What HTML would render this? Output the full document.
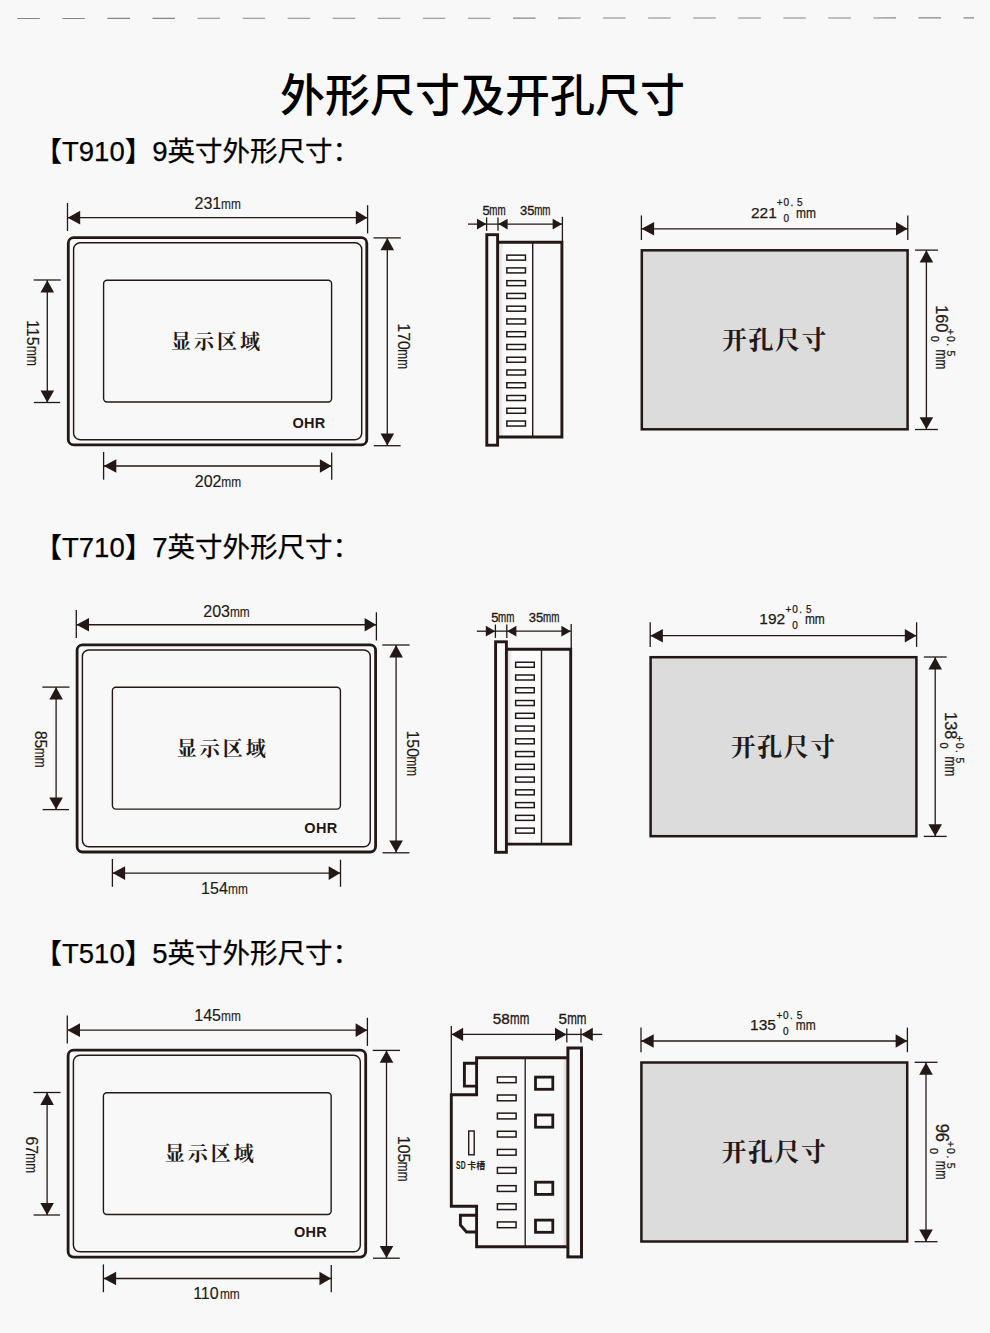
<!DOCTYPE html><html><head><meta charset="utf-8"><title>外形尺寸及开孔尺寸</title><style>html,body{margin:0;padding:0;background:#f8f8f8;font-family:"Liberation Sans",sans-serif}svg{display:block}.s{font-family:"Liberation Sans","Noto Sans CJK SC",sans-serif}.f{font-family:"Liberation Serif","Noto Serif CJK SC",serif}</style></head><body><svg width="990" height="1333" viewBox="0 0 990 1333"><defs><linearGradient id="shade" x1="0" x2="1" y1="0" y2="0"><stop offset="0" stop-color="#d9d9d9"/><stop offset="1" stop-color="#fcfcfc"/></linearGradient><linearGradient id="shade2" x1="0" x2="1" y1="0" y2="0"><stop offset="0" stop-color="#f8f8f8"/><stop offset="1" stop-color="#d4d4d4"/></linearGradient></defs><rect width="990" height="1333" fill="#f8f8f8"/><path d="M17.3 18.45L974 17.85" stroke="#858585" stroke-width="1.05" stroke-dasharray="22.53 22.53" fill="none"/><text class="s" x="482.5" y="111.5" font-size="45" font-weight="500" text-anchor="middle" fill="#000">外形尺寸及开孔尺寸</text><text class="s" x="34.5" y="161.4" font-size="27.5" fill="#000" stroke="#000" stroke-width="0.25">【T910】9英寸外形尺寸：</text><text class="s" x="34.5" y="556.9" font-size="27.5" fill="#000" stroke="#000" stroke-width="0.25">【T710】7英寸外形尺寸：</text><text class="s" x="34.5" y="962.9" font-size="27.5" fill="#000" stroke="#000" stroke-width="0.25">【T510】5英寸外形尺寸：</text><path d="M67.5 203L67.5 231" stroke="#231815" stroke-width="1.3" fill="none"/><path d="M367.6 205.2L367.6 233.4" stroke="#231815" stroke-width="1.3" fill="none"/><path d="M67.5 217.65L367.6 217.65" stroke="#231815" stroke-width="1.3" fill="none"/><path d="M67.7 217.65L80.2 210.85L80.2 224.45Z" fill="#231815"/><path d="M367.4 217.65L355.8 210.85L355.8 224.45Z" fill="#231815"/><g class="s" fill="#231815" stroke="#231815" stroke-width="0.15" transform="translate(195.03 209.2)"><text x="-0.5" font-size="16">231</text><text font-size="15.5" transform="translate(26.05 0) scale(0.767 1)">mm</text></g><rect x="68.3" y="237.7" width="298.5" height="207.2" rx="5.5" stroke="#231815" stroke-width="2.8" fill="none"/><rect x="73.6" y="242.8" width="288.1" height="196.9" rx="6.5" stroke="#231815" stroke-width="1.45" fill="none"/><rect x="103.6" y="280.2" width="228" height="121.8" rx="3.5" stroke="#231815" stroke-width="1.4" fill="none"/><path d="M373.5 237.9L400.8 237.9" stroke="#231815" stroke-width="1.3" fill="none"/><path d="M373.8 445.7L400.6 445.7" stroke="#231815" stroke-width="1.3" fill="none"/><path d="M387.3 237.9L387.3 445.7" stroke="#231815" stroke-width="1.3" fill="none"/><path d="M387.3 238L380.5 250.3L394.1 250.3Z" fill="#231815"/><path d="M387.3 445.5L380.5 433.5L394.1 433.5Z" fill="#231815"/><g class="s" fill="#231815" stroke="#231815" stroke-width="0.15" transform="translate(397.8 324.3) rotate(90) scale(1 1.08)"><text x="-1" font-size="16">170</text><text font-size="15.5" transform="translate(24.99 0) scale(0.767 1)">mm</text></g><path d="M33.6 280L60.7 280" stroke="#231815" stroke-width="1.3" fill="none"/><path d="M33.8 402.5L60.2 402.5" stroke="#231815" stroke-width="1.3" fill="none"/><path d="M47.3 280L47.3 402.5" stroke="#231815" stroke-width="1.3" fill="none"/><path d="M47.3 280.2L40.5 292.5L54.1 292.5Z" fill="#231815"/><path d="M47.3 402.4L40.5 390.4L54.1 390.4Z" fill="#231815"/><g class="s" fill="#231815" stroke="#231815" stroke-width="0.15" transform="translate(26.5 321.1) rotate(90) scale(1 1.06)"><text x="-1" font-size="16">115</text><text font-size="15.5" transform="translate(24.94 0) scale(0.767 1)">mm</text></g><path d="M103.6 451.9L103.6 479.7" stroke="#231815" stroke-width="1.3" fill="none"/><path d="M331.7 452.6L331.7 479.7" stroke="#231815" stroke-width="1.3" fill="none"/><path d="M103.6 466L331.7 466" stroke="#231815" stroke-width="1.3" fill="none"/><path d="M103.8 466L116.3 459.2L116.3 472.8Z" fill="#231815"/><path d="M331.5 466L319.9 459.2L319.9 472.8Z" fill="#231815"/><g class="s" fill="#231815" stroke="#231815" stroke-width="0.15" transform="translate(195.24 486.7)"><text x="-0.5" font-size="16">202</text><text font-size="15.5" transform="translate(26.02 0) scale(0.767 1)">mm</text></g><text class="f" x="171" y="348.5" font-size="20" font-weight="bold" letter-spacing="3" fill="#231815">显示区域</text><text class="s" x="292.5" y="428.4" font-size="14.5" font-weight="bold" letter-spacing="0.3" fill="#231815">OHR</text><path d="M468 224.1L486.6 224.1" stroke="#231815" stroke-width="1.3" fill="none"/><path d="M486.4 224.1L477 218.7L477 229.5Z" fill="#231815"/><path d="M486.6 217.4L486.6 230.8" stroke="#231815" stroke-width="1.3" fill="none"/><path d="M498 217.4L498 230.8" stroke="#231815" stroke-width="1.3" fill="none"/><path d="M486.6 224.1L562 224.1" stroke="#231815" stroke-width="1.3" fill="none"/><path d="M498.4 224.1L507.6 218.7L507.6 229.5Z" fill="#231815"/><path d="M562 224.1L552.6 218.7L552.6 229.5Z" fill="#231815"/><path d="M562.4 216.8L562.4 243" stroke="#231815" stroke-width="1.3" fill="none"/><g class="s" fill="#231815" stroke="#231815" stroke-width="0.35" transform="translate(482.84 215)"><text x="-0.4" font-size="13">5</text><text font-size="14.35" transform="translate(6.4 0) scale(0.683 1)">mm</text></g><g class="s" fill="#231815" stroke="#231815" stroke-width="0.35" transform="translate(520.29 215)"><text x="-0.4" font-size="13">35</text><text font-size="14.35" transform="translate(13.9 0) scale(0.683 1)">mm</text></g><rect x="498" y="243" width="34.5" height="193" fill="#fcfcfc"/><rect x="498.5" y="243" width="5.5" height="193" fill="url(#shade)"/><rect x="486.8" y="234.7" width="10.8" height="210.5" stroke="#231815" stroke-width="2.9" fill="none"/><path d="M497.6 242.2H561.9V437H497.6" stroke="#231815" stroke-width="2.9" fill="none"/><path d="M532.7 242.2L532.7 437" stroke="#231815" stroke-width="1.4" fill="none"/><rect x="506.85" y="255.15" width="18.6" height="5" stroke="#231815" stroke-width="1.5" fill="#fefefe"/><rect x="506.85" y="267.91" width="18.6" height="5" stroke="#231815" stroke-width="1.5" fill="#fefefe"/><rect x="506.85" y="280.67" width="18.6" height="5" stroke="#231815" stroke-width="1.5" fill="#fefefe"/><rect x="506.85" y="293.43" width="18.6" height="5" stroke="#231815" stroke-width="1.5" fill="#fefefe"/><rect x="506.85" y="306.19" width="18.6" height="5" stroke="#231815" stroke-width="1.5" fill="#fefefe"/><rect x="506.85" y="318.95" width="18.6" height="5" stroke="#231815" stroke-width="1.5" fill="#fefefe"/><rect x="506.85" y="331.71" width="18.6" height="5" stroke="#231815" stroke-width="1.5" fill="#fefefe"/><rect x="506.85" y="344.47" width="18.6" height="5" stroke="#231815" stroke-width="1.5" fill="#fefefe"/><rect x="506.85" y="357.23" width="18.6" height="5" stroke="#231815" stroke-width="1.5" fill="#fefefe"/><rect x="506.85" y="369.99" width="18.6" height="5" stroke="#231815" stroke-width="1.5" fill="#fefefe"/><rect x="506.85" y="382.75" width="18.6" height="5" stroke="#231815" stroke-width="1.5" fill="#fefefe"/><rect x="506.85" y="395.51" width="18.6" height="5" stroke="#231815" stroke-width="1.5" fill="#fefefe"/><rect x="506.85" y="408.27" width="18.6" height="5" stroke="#231815" stroke-width="1.5" fill="#fefefe"/><rect x="506.85" y="421.03" width="18.6" height="5" stroke="#231815" stroke-width="1.5" fill="#fefefe"/><path d="M641.4 215.4L641.4 240" stroke="#231815" stroke-width="1.3" fill="none"/><path d="M907.8 215.4L907.8 240" stroke="#231815" stroke-width="1.3" fill="none"/><path d="M641.4 228.8L907.8 228.8" stroke="#231815" stroke-width="1.3" fill="none"/><path d="M641.6 228.8L654.1 222L654.1 235.6Z" fill="#231815"/><path d="M907.6 228.8L896 222L896 235.6Z" fill="#231815"/><rect x="641.8" y="250.3" width="265.8" height="179" stroke="#231815" stroke-width="2.5" fill="#dcdcdc"/><path d="M915 250.1L937.9 250.1" stroke="#231815" stroke-width="1.3" fill="none"/><path d="M915 429.5L937.9 429.5" stroke="#231815" stroke-width="1.3" fill="none"/><path d="M926.4 250.1L926.4 429.5" stroke="#231815" stroke-width="1.3" fill="none"/><path d="M926.4 250.3L919.6 262.6L933.2 262.6Z" fill="#231815"/><path d="M926.4 429.3L919.6 417.3L933.2 417.3Z" fill="#231815"/><g class="s" fill="#231815" stroke="#231815" stroke-width="0.25" transform="translate(751 217.5)"><text x="0" font-size="15.5">221</text><text font-size="10" y="-11.1" x="25.8 32.5 39.4 46.1">+0.5</text><text font-size="10" x="32.4" y="4.8">0</text><text font-size="14.7" transform="translate(45.1 0) scale(0.814 1)">mm</text></g><g class="s" fill="#231815" stroke="#231815" stroke-width="0.25" transform="translate(935.9 305.8) rotate(90) scale(1 1.06)"><text x="-0.6" font-size="16.3">160</text><text font-size="10.5" y="-10.8" x="22.9 30.1 37.4 44.7">+0.5</text><text font-size="11" x="29.9" y="4.8">0</text><text font-size="15.7" transform="translate(43.8 0) scale(0.756 1)">mm</text></g><text class="f" x="722" y="348.9" font-size="25" font-weight="bold" letter-spacing="1.5" fill="#231815">开孔尺寸</text><path d="M76.3 610.1L76.3 638.1" stroke="#231815" stroke-width="1.3" fill="none"/><path d="M376.4 612.3L376.4 640.5" stroke="#231815" stroke-width="1.3" fill="none"/><path d="M76.3 624.75L376.4 624.75" stroke="#231815" stroke-width="1.3" fill="none"/><path d="M76.5 624.75L89 617.95L89 631.55Z" fill="#231815"/><path d="M376.2 624.75L364.6 617.95L364.6 631.55Z" fill="#231815"/><g class="s" fill="#231815" stroke="#231815" stroke-width="0.15" transform="translate(203.79 616.8)"><text x="-0.5" font-size="16">203</text><text font-size="15.5" transform="translate(26.12 0) scale(0.767 1)">mm</text></g><rect x="77.1" y="644.8" width="298.5" height="207.2" rx="5.5" stroke="#231815" stroke-width="2.8" fill="none"/><rect x="82.4" y="649.9" width="287.85" height="196.9" rx="6.5" stroke="#231815" stroke-width="1.45" fill="none"/><rect x="112.4" y="687.3" width="228" height="121.8" rx="3.5" stroke="#231815" stroke-width="1.4" fill="none"/><path d="M382.3 645L409.6 645" stroke="#231815" stroke-width="1.3" fill="none"/><path d="M382.6 852.8L409.4 852.8" stroke="#231815" stroke-width="1.3" fill="none"/><path d="M396.1 645L396.1 852.8" stroke="#231815" stroke-width="1.3" fill="none"/><path d="M396.1 645.1L389.3 657.4L402.9 657.4Z" fill="#231815"/><path d="M396.1 852.6L389.3 840.6L402.9 840.6Z" fill="#231815"/><g class="s" fill="#231815" stroke="#231815" stroke-width="0.15" transform="translate(406.6 731.4) rotate(90) scale(1 1.08)"><text x="-1" font-size="16">150</text><text font-size="15.5" transform="translate(24.99 0) scale(0.767 1)">mm</text></g><path d="M42.4 687.1L69.5 687.1" stroke="#231815" stroke-width="1.3" fill="none"/><path d="M42.6 809.6L69 809.6" stroke="#231815" stroke-width="1.3" fill="none"/><path d="M56.1 687.1L56.1 809.6" stroke="#231815" stroke-width="1.3" fill="none"/><path d="M56.1 687.3L49.3 699.6L62.9 699.6Z" fill="#231815"/><path d="M56.1 809.5L49.3 797.5L62.9 797.5Z" fill="#231815"/><g class="s" fill="#231815" stroke="#231815" stroke-width="0.15" transform="translate(35.3 731.3) rotate(90) scale(1 1.06)"><text x="-0.6" font-size="16">85</text><text font-size="15.5" transform="translate(16.59 0) scale(0.767 1)">mm</text></g><path d="M112.4 859L112.4 886.8" stroke="#231815" stroke-width="1.3" fill="none"/><path d="M340.5 859.7L340.5 886.8" stroke="#231815" stroke-width="1.3" fill="none"/><path d="M112.4 873.1L340.5 873.1" stroke="#231815" stroke-width="1.3" fill="none"/><path d="M112.6 873.1L125.1 866.3L125.1 879.9Z" fill="#231815"/><path d="M340.3 873.1L328.7 866.3L328.7 879.9Z" fill="#231815"/><g class="s" fill="#231815" stroke="#231815" stroke-width="0.15" transform="translate(202.08 893.8)"><text x="-1" font-size="16">154</text><text font-size="15.5" transform="translate(25.95 0) scale(0.767 1)">mm</text></g><text class="f" x="176.8" y="755.6" font-size="20" font-weight="bold" letter-spacing="3" fill="#231815">显示区域</text><text class="s" x="304.3" y="832.8" font-size="14.5" font-weight="bold" letter-spacing="0.3" fill="#231815">OHR</text><path d="M476.8 631.2L495.4 631.2" stroke="#231815" stroke-width="1.3" fill="none"/><path d="M495.2 631.2L485.8 625.8L485.8 636.6Z" fill="#231815"/><path d="M495.4 624.5L495.4 637.9" stroke="#231815" stroke-width="1.3" fill="none"/><path d="M506.8 624.5L506.8 637.9" stroke="#231815" stroke-width="1.3" fill="none"/><path d="M495.4 631.2L570.8 631.2" stroke="#231815" stroke-width="1.3" fill="none"/><path d="M507.2 631.2L516.4 625.8L516.4 636.6Z" fill="#231815"/><path d="M570.8 631.2L561.4 625.8L561.4 636.6Z" fill="#231815"/><path d="M571.2 623.9L571.2 650.1" stroke="#231815" stroke-width="1.3" fill="none"/><g class="s" fill="#231815" stroke="#231815" stroke-width="0.35" transform="translate(491.64 622.1)"><text x="-0.4" font-size="13">5</text><text font-size="14.35" transform="translate(6.4 0) scale(0.683 1)">mm</text></g><g class="s" fill="#231815" stroke="#231815" stroke-width="0.35" transform="translate(529.09 622.1)"><text x="-0.4" font-size="13">35</text><text font-size="14.35" transform="translate(13.9 0) scale(0.683 1)">mm</text></g><rect x="506.8" y="650.1" width="34.5" height="193" fill="#fcfcfc"/><rect x="507.3" y="650.1" width="5.5" height="193" fill="url(#shade)"/><rect x="495.6" y="641.8" width="10.8" height="210.5" stroke="#231815" stroke-width="2.9" fill="none"/><path d="M506.4 649.3H570.7V844.1H506.4" stroke="#231815" stroke-width="2.9" fill="none"/><path d="M541.5 649.3L541.5 844.1" stroke="#231815" stroke-width="1.4" fill="none"/><rect x="515.65" y="662.25" width="18.6" height="5" stroke="#231815" stroke-width="1.5" fill="#fefefe"/><rect x="515.65" y="675.01" width="18.6" height="5" stroke="#231815" stroke-width="1.5" fill="#fefefe"/><rect x="515.65" y="687.77" width="18.6" height="5" stroke="#231815" stroke-width="1.5" fill="#fefefe"/><rect x="515.65" y="700.53" width="18.6" height="5" stroke="#231815" stroke-width="1.5" fill="#fefefe"/><rect x="515.65" y="713.29" width="18.6" height="5" stroke="#231815" stroke-width="1.5" fill="#fefefe"/><rect x="515.65" y="726.05" width="18.6" height="5" stroke="#231815" stroke-width="1.5" fill="#fefefe"/><rect x="515.65" y="738.81" width="18.6" height="5" stroke="#231815" stroke-width="1.5" fill="#fefefe"/><rect x="515.65" y="751.57" width="18.6" height="5" stroke="#231815" stroke-width="1.5" fill="#fefefe"/><rect x="515.65" y="764.33" width="18.6" height="5" stroke="#231815" stroke-width="1.5" fill="#fefefe"/><rect x="515.65" y="777.09" width="18.6" height="5" stroke="#231815" stroke-width="1.5" fill="#fefefe"/><rect x="515.65" y="789.85" width="18.6" height="5" stroke="#231815" stroke-width="1.5" fill="#fefefe"/><rect x="515.65" y="802.61" width="18.6" height="5" stroke="#231815" stroke-width="1.5" fill="#fefefe"/><rect x="515.65" y="815.37" width="18.6" height="5" stroke="#231815" stroke-width="1.5" fill="#fefefe"/><rect x="515.65" y="828.13" width="18.6" height="5" stroke="#231815" stroke-width="1.5" fill="#fefefe"/><path d="M650.2 622.3L650.2 646.9" stroke="#231815" stroke-width="1.3" fill="none"/><path d="M916.6 622.3L916.6 646.9" stroke="#231815" stroke-width="1.3" fill="none"/><path d="M650.2 635.7L916.6 635.7" stroke="#231815" stroke-width="1.3" fill="none"/><path d="M650.4 635.7L662.9 628.9L662.9 642.5Z" fill="#231815"/><path d="M916.4 635.7L904.8 628.9L904.8 642.5Z" fill="#231815"/><rect x="650.6" y="657.2" width="265.8" height="179" stroke="#231815" stroke-width="2.5" fill="#dcdcdc"/><path d="M923.8 657L946.7 657" stroke="#231815" stroke-width="1.3" fill="none"/><path d="M923.8 836.4L946.7 836.4" stroke="#231815" stroke-width="1.3" fill="none"/><path d="M935.2 657L935.2 836.4" stroke="#231815" stroke-width="1.3" fill="none"/><path d="M935.2 657.2L928.4 669.5L942 669.5Z" fill="#231815"/><path d="M935.2 836.2L928.4 824.2L942 824.2Z" fill="#231815"/><g class="s" fill="#231815" stroke="#231815" stroke-width="0.25" transform="translate(759.8 624.4)"><text x="-0.5" font-size="15.5">192</text><text font-size="10" y="-11.1" x="25.8 32.5 39.4 46.1">+0.5</text><text font-size="10" x="32.4" y="4.8">0</text><text font-size="14.7" transform="translate(45.1 0) scale(0.814 1)">mm</text></g><g class="s" fill="#231815" stroke="#231815" stroke-width="0.25" transform="translate(944.7 712.7) rotate(90) scale(1 1.06)"><text x="-0.6" font-size="16.3">138</text><text font-size="10.5" y="-10.8" x="22.9 30.1 37.4 44.7">+0.5</text><text font-size="11" x="29.9" y="4.8">0</text><text font-size="15.7" transform="translate(43.8 0) scale(0.756 1)">mm</text></g><text class="f" x="730.8" y="755.8" font-size="25" font-weight="bold" letter-spacing="1.5" fill="#231815">开孔尺寸</text><path d="M67.3 1015.5L67.3 1043.5" stroke="#231815" stroke-width="1.3" fill="none"/><path d="M367.4 1017.7L367.4 1045.9" stroke="#231815" stroke-width="1.3" fill="none"/><path d="M67.3 1030.15L367.4 1030.15" stroke="#231815" stroke-width="1.3" fill="none"/><path d="M67.5 1030.15L80 1023.35L80 1036.95Z" fill="#231815"/><path d="M367.2 1030.15L355.6 1023.35L355.6 1036.95Z" fill="#231815"/><g class="s" fill="#231815" stroke="#231815" stroke-width="0.15" transform="translate(195.28 1021.3)"><text x="-1" font-size="16">145</text><text font-size="15.5" transform="translate(25.74 0) scale(0.767 1)">mm</text></g><rect x="68.1" y="1050.2" width="297.6" height="206.9" rx="5.5" stroke="#231815" stroke-width="2.8" fill="none"/><rect x="73.4" y="1055.3" width="286.9" height="196.5" rx="6.5" stroke="#231815" stroke-width="1.45" fill="none"/><rect x="103.4" y="1092.7" width="227.75" height="121.8" rx="3.5" stroke="#231815" stroke-width="1.4" fill="none"/><path d="M372.7 1050.4L400 1050.4" stroke="#231815" stroke-width="1.3" fill="none"/><path d="M373 1258.2L399.8 1258.2" stroke="#231815" stroke-width="1.3" fill="none"/><path d="M386.5 1050.4L386.5 1258.2" stroke="#231815" stroke-width="1.3" fill="none"/><path d="M386.5 1050.5L379.7 1062.8L393.3 1062.8Z" fill="#231815"/><path d="M386.5 1258L379.7 1246L393.3 1246Z" fill="#231815"/><g class="s" fill="#231815" stroke="#231815" stroke-width="0.15" transform="translate(397.6 1136.8) rotate(90) scale(1 1.08)"><text x="-1" font-size="16">105</text><text font-size="15.5" transform="translate(24.94 0) scale(0.767 1)">mm</text></g><path d="M33.4 1092.5L60.5 1092.5" stroke="#231815" stroke-width="1.3" fill="none"/><path d="M33.6 1215L60 1215" stroke="#231815" stroke-width="1.3" fill="none"/><path d="M47.1 1092.5L47.1 1215" stroke="#231815" stroke-width="1.3" fill="none"/><path d="M47.1 1092.7L40.3 1105L53.9 1105Z" fill="#231815"/><path d="M47.1 1214.9L40.3 1202.9L53.9 1202.9Z" fill="#231815"/><g class="s" fill="#231815" stroke="#231815" stroke-width="0.15" transform="translate(26.3 1137) rotate(90) scale(1 1.06)"><text x="-0.6" font-size="16">67</text><text font-size="15.5" transform="translate(16.34 0) scale(0.767 1)">mm</text></g><path d="M103.4 1264.4L103.4 1292.2" stroke="#231815" stroke-width="1.3" fill="none"/><path d="M331.25 1265.1L331.25 1292.2" stroke="#231815" stroke-width="1.3" fill="none"/><path d="M103.4 1278.5L331.25 1278.5" stroke="#231815" stroke-width="1.3" fill="none"/><path d="M103.6 1278.5L116.1 1271.7L116.1 1285.3Z" fill="#231815"/><path d="M331.05 1278.5L319.45 1271.7L319.45 1285.3Z" fill="#231815"/><g class="s" fill="#231815" stroke="#231815" stroke-width="0.15" transform="translate(194.16 1299.2)"><text x="-1" font-size="16">110</text><text font-size="15.5" transform="translate(25.79 0) scale(0.767 1)">mm</text></g><text class="f" x="164.8" y="1161" font-size="20" font-weight="bold" letter-spacing="3" fill="#231815">显示区域</text><text class="s" x="294" y="1236.7" font-size="14.5" font-weight="bold" letter-spacing="0.3" fill="#231815">OHR</text><path d="M451.3 1026L451.3 1095" stroke="#231815" stroke-width="1.3" fill="none"/><path d="M451.3 1034.4L566.8 1034.4" stroke="#231815" stroke-width="1.3" fill="none"/><path d="M451.5 1034.4L463.1 1027.7L463.1 1041.1Z" fill="#231815"/><path d="M566.6 1034.4L555 1027.7L555 1041.1Z" fill="#231815"/><path d="M566.8 1028.4L566.8 1042.5" stroke="#231815" stroke-width="1.3" fill="none"/><path d="M581 1028.4L581 1042.5" stroke="#231815" stroke-width="1.3" fill="none"/><path d="M566.8 1034.4L581 1034.4" stroke="#231815" stroke-width="1.3" fill="none"/><path d="M581 1034.4L602.2 1034.4" stroke="#231815" stroke-width="1.3" fill="none"/><path d="M581.2 1034.4L592.8 1027.7L592.8 1041.1Z" fill="#231815"/><g class="s" fill="#231815" stroke="#231815" stroke-width="0.35" transform="translate(493.19 1023.9)"><text x="-0.4" font-size="15.3">58</text><text font-size="16.5" transform="translate(16.9 0) scale(0.7 1)">mm</text></g><g class="s" fill="#231815" stroke="#231815" stroke-width="0.35" transform="translate(558.91 1023.9)"><text x="-0.4" font-size="15.3">5</text><text font-size="16.5" transform="translate(8.25 0) scale(0.7 1)">mm</text></g><rect x="562.3" y="1059" width="4.2" height="186.5" fill="url(#shade2)"/><rect x="567.9" y="1048" width="13.6" height="208.9" stroke="#231815" stroke-width="3.0" fill="none"/><path d="M566.8 1057.8L476.6 1057.8L476.6 1094.8L451.3 1094.8L451.3 1206.3L476.6 1206.3L476.6 1246.8L566.8 1246.8" stroke="#231815" stroke-width="2.9" fill="none" stroke-linejoin="miter"/><path d="M476.6 1063.2L464.4 1063.2L464.4 1086.1L476.6 1086.1" stroke="#231815" stroke-width="2.9" fill="none"/><path d="M476.6 1215.2L460.4 1215.2L460.4 1224.9L466.5 1232L476.6 1232" stroke="#231815" stroke-width="2.9" fill="none"/><path d="M525.2 1057.8L525.2 1246.8" stroke="#231815" stroke-width="1.3" fill="none"/><rect x="497.4" y="1076.9" width="18.7" height="5.75" stroke="#231815" stroke-width="1.5" fill="#fdfdfd"/><rect x="497.4" y="1095.03" width="18.7" height="5.75" stroke="#231815" stroke-width="1.5" fill="#fdfdfd"/><rect x="497.4" y="1113.16" width="18.7" height="5.75" stroke="#231815" stroke-width="1.5" fill="#fdfdfd"/><rect x="497.4" y="1131.29" width="18.7" height="5.75" stroke="#231815" stroke-width="1.5" fill="#fdfdfd"/><rect x="497.4" y="1149.42" width="18.7" height="5.75" stroke="#231815" stroke-width="1.5" fill="#fdfdfd"/><rect x="497.4" y="1167.55" width="18.7" height="5.75" stroke="#231815" stroke-width="1.5" fill="#fdfdfd"/><rect x="497.4" y="1185.68" width="18.7" height="5.75" stroke="#231815" stroke-width="1.5" fill="#fdfdfd"/><rect x="497.4" y="1203.81" width="18.7" height="5.75" stroke="#231815" stroke-width="1.5" fill="#fdfdfd"/><rect x="497.4" y="1221.94" width="18.7" height="5.75" stroke="#231815" stroke-width="1.5" fill="#fdfdfd"/><rect x="535.5" y="1077.1" width="17.3" height="12.2" stroke="#231815" stroke-width="2.8" fill="none"/><rect x="535.5" y="1115" width="17.3" height="12.2" stroke="#231815" stroke-width="2.8" fill="none"/><rect x="535.5" y="1182.2" width="17.3" height="12.2" stroke="#231815" stroke-width="2.8" fill="none"/><rect x="535.5" y="1220.1" width="17.3" height="12.2" stroke="#231815" stroke-width="2.8" fill="none"/><rect x="468.7" y="1131" width="5.5" height="23.8" stroke="#231815" stroke-width="1.4" fill="none"/><text class="s" font-size="11" font-weight="bold" fill="#231815" transform="translate(456.1 1169.3) scale(0.62 1)">SD</text><text class="s" x="467.2" y="1168.9" font-size="9" font-weight="bold" fill="#231815">卡槽</text><path d="M641 1027.6L641 1052.2" stroke="#231815" stroke-width="1.3" fill="none"/><path d="M907.4 1027.6L907.4 1052.2" stroke="#231815" stroke-width="1.3" fill="none"/><path d="M641 1041L907.4 1041" stroke="#231815" stroke-width="1.3" fill="none"/><path d="M641.2 1041L653.7 1034.2L653.7 1047.8Z" fill="#231815"/><path d="M907.2 1041L895.6 1034.2L895.6 1047.8Z" fill="#231815"/><rect x="641.4" y="1062.5" width="265.8" height="179" stroke="#231815" stroke-width="2.5" fill="#dcdcdc"/><path d="M914.6 1062.3L937.5 1062.3" stroke="#231815" stroke-width="1.3" fill="none"/><path d="M914.6 1241.7L937.5 1241.7" stroke="#231815" stroke-width="1.3" fill="none"/><path d="M926 1062.3L926 1241.7" stroke="#231815" stroke-width="1.3" fill="none"/><path d="M926 1062.5L919.2 1074.8L932.8 1074.8Z" fill="#231815"/><path d="M926 1241.5L919.2 1229.5L932.8 1229.5Z" fill="#231815"/><g class="s" fill="#231815" stroke="#231815" stroke-width="0.25" transform="translate(750.6 1029.7)"><text x="-0.5" font-size="15.5">135</text><text font-size="10" y="-11.1" x="25.8 32.5 39.4 46.1">+0.5</text><text font-size="10" x="32.4" y="4.8">0</text><text font-size="14.7" transform="translate(45.1 0) scale(0.814 1)">mm</text></g><g class="s" fill="#231815" stroke="#231815" stroke-width="0.25" transform="translate(935.5 1118) rotate(90) scale(1 1.06)"><text x="5.7" font-size="16.5">96</text><text font-size="10.5" y="-10.8" x="22.9 30.1 37.4 44.7">+0.5</text><text font-size="11" x="29.9" y="4.8">0</text><text font-size="15.7" transform="translate(42.8 0) scale(0.715 1)">mm</text></g><text class="f" x="721.6" y="1161.1" font-size="25" font-weight="bold" letter-spacing="1.5" fill="#231815">开孔尺寸</text></svg></body></html>
